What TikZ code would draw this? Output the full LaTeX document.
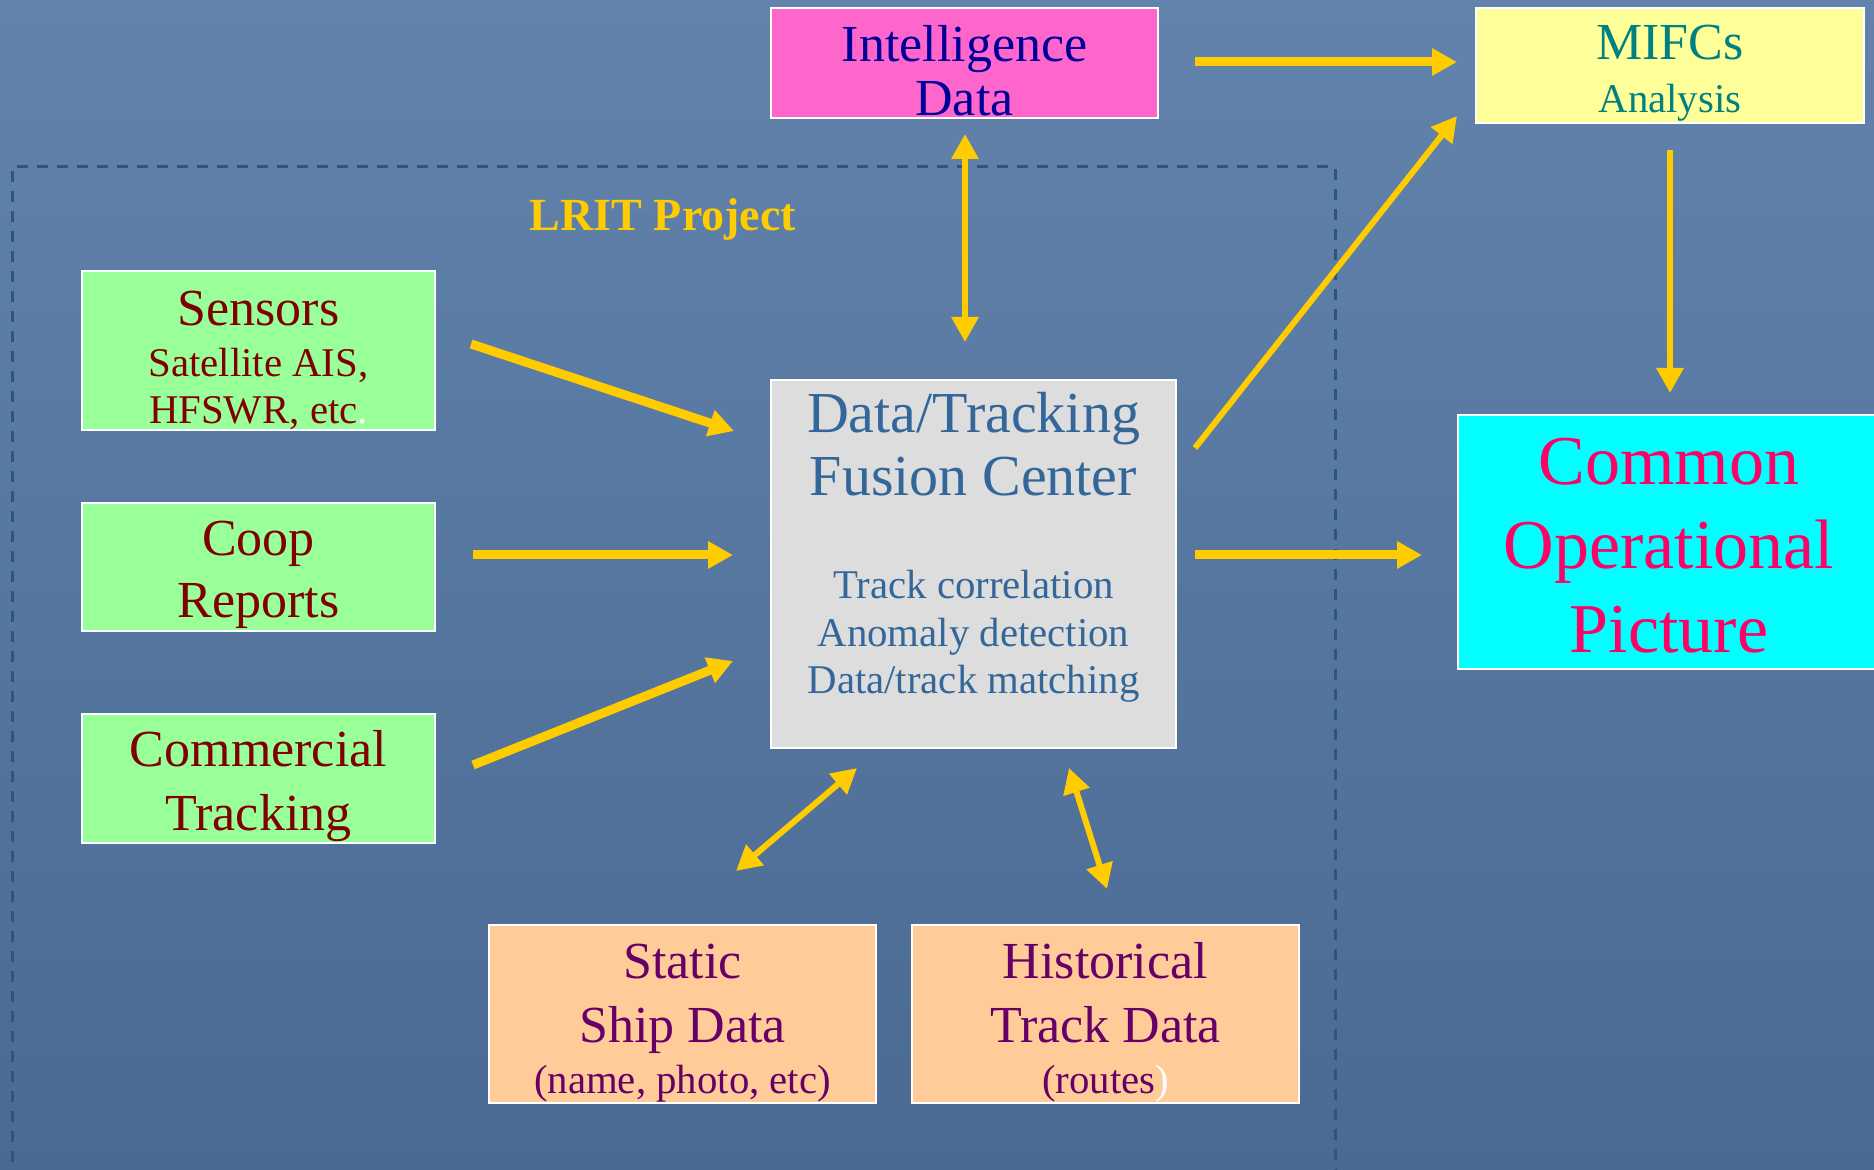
\documentclass[tikz,border=0pt]{standalone}
\usepackage{fontspec}
\setmainfont{Liberation Serif}
\usetikzlibrary{arrows.meta,calc}

\definecolor{bgtop}{HTML}{6283AB}
\definecolor{bgmid}{HTML}{5B7CA4}
\definecolor{bgbot}{HTML}{4A6A93}
\definecolor{frameblue}{HTML}{2E5483}
\definecolor{arrowyellow}{HTML}{FFCC00}
\definecolor{intelfill}{HTML}{FF66CC}
\definecolor{inteltext}{HTML}{000099}
\definecolor{mifcsfill}{HTML}{FFFF99}
\definecolor{mifcstext}{HTML}{008080}
\definecolor{srcfill}{HTML}{99FF99}
\definecolor{srctext}{HTML}{800000}
\definecolor{fusionfill}{HTML}{DDDDDD}
\definecolor{fusiontext}{HTML}{336699}
\definecolor{copfill}{HTML}{00FFFF}
\definecolor{coptext}{HTML}{FF0066}
\definecolor{dbfill}{HTML}{FFCC99}
\definecolor{dbtext}{HTML}{660066}

\tikzset{
	box/.style={draw=white, line width=1pt, inner sep=0pt, align=center},
	srcbox/.style={box, fill=srcfill, text=srctext, minimum width=176.5pt},
	dbbox/.style={box, fill=dbfill, text=dbtext, minimum width=193.5pt, minimum height=89pt,
		font=\fontsize{26}{32}\selectfont},
	fatarrow/.style={arrowyellow, line width=4.5pt, -{Triangle[length=12.5pt,width=13pt]}},
	thinarrow/.style={arrowyellow, line width=3pt, -{Triangle[length=12.5pt,width=13pt]}},
	twoway/.style={thinarrow, {Triangle[length=12.5pt,width=13pt]}-{Triangle[length=12.5pt,width=13pt]}}
}
\newcommand{\smalltxt}{\fontsize{20.4}{24}\selectfont}
\newcommand{\topgap}[1]{\rule{0pt}{#1}}

\begin{document}
\begin{tikzpicture}[x=0.5pt, y=-0.5pt]
	%background
	\useasboundingbox (0,0) rectangle (1874,1170);
	\shade [top color=bgtop, middle color=bgmid, bottom color=bgbot] (0,0) rectangle (1874,1170);

	%project frame
	\draw [frameblue, line width=1.5pt, dash pattern=on 5.5pt off 4.5pt] (1335,1180) -- (1335,167) -- (12,167) -- (12,1180);
	\node (lrit) [text=arrowyellow, font=\fontsize{23}{27}\selectfont\bfseries] at (663,219) {LRIT Project};

	%nodes
	\node (intel) [box, fill=intelfill, text=inteltext, minimum width=193.5pt, minimum height=55pt,
		font=\fontsize{26}{27}\selectfont] at (964.5,63) {\topgap{26pt}Intelligence\\Data};
	\node (mifcs) [box, fill=mifcsfill, text=mifcstext, minimum width=194pt, minimum height=57.5pt,
		font=\fontsize{26}{26.7}\selectfont] at (1670,65.5) {\topgap{25pt}MIFCs\\{\smalltxt Analysis}};

	\node (sensors) [srcbox, minimum height=76.5pt, font=\fontsize{26}{25.5}\selectfont] at (258.5,350.5)
		{\topgap{27pt}Sensors\\{\smalltxt Satellite AIS,}\\[-2pt]{\smalltxt HFSWR, etc{\color{white}.}}};
	\node (coop) [srcbox, minimum height=64pt, font=\fontsize{26}{31}\selectfont] at (258.5,567) {\topgap{25.5pt}Coop\\Reports};
	\node (comm) [srcbox, minimum height=64.5pt, font=\fontsize{26}{32}\selectfont] at (258.5,778.5) {\topgap{26pt}Commercial\\Tracking};

	\node (fusion) [box, fill=fusionfill, text=fusiontext, minimum width=202.5pt, minimum height=184pt,
		font=\fontsize{29}{31.5}\selectfont] at (973.5,564)
		{Data/Tracking\\Fusion Center\\[20pt]
		{\smalltxt Track correlation}\\[-7.8pt]
		{\smalltxt Anomaly detection}\\[-7.8pt]
		{\smalltxt Data/track matching\rule[-21pt]{0pt}{0pt}}};

	\node (cop) [box, fill=copfill, text=coptext, minimum width=211pt, minimum height=127pt,
		font=\fontsize{35}{42}\selectfont] at (1669,542) {\topgap{27pt}Common\\Operational\\Picture};

	\node (static) [dbbox] at (682.5,1014) {\topgap{26pt}Static\\Ship Data\\[-6.5pt]{\smalltxt (name, photo, etc)}};
	\node (hist) [dbbox] at (1105.5,1014) {\topgap{26pt}Historical\\Track Data\\[-6.5pt]{\smalltxt (routes{\color{white})}}};

	%paths
	\draw [fatarrow] ($(intel.east)+(36,-1)$) -- ($(mifcs.west)+(-18,-3.5)$);
	\draw [twoway] ($(intel.south)+(0.5,15)$) -- ($(fusion.north)+(-8.5,-37)$);
	\draw [thinarrow] ($(fusion.east)+(18,-116)$) -- ($(mifcs.south west)+(-18,-8)$);
	\draw [thinarrow] ($(mifcs.south)+(0,26)$) -- ($(cop.north)+(1,-21)$);
	\draw [fatarrow] ($(fusion.east)+(18,-9)$) -- ($(cop.west)+(-35,13)$);

	\draw [fatarrow] ($(sensors.east)+(35,-6.5)$) -- ($(fusion.west)+(-36,-133)$);
	\draw [fatarrow] ($(coop.east)+(37,-12)$) -- ($(fusion.west)+(-37,-9)$);
	\draw [fatarrow] ($(comm.east)+(37,-13.5)$) -- ($(fusion.west)+(-37,97)$);

	\draw [twoway] ($(static.north)+(53.5,-53)$) -- ($(fusion.south west)+(87,19)$);
	\draw [twoway] ($(hist.north)+(1.5,-35)$) -- ($(fusion.south)+(95.5,19)$);

\end{tikzpicture}
\end{document}
